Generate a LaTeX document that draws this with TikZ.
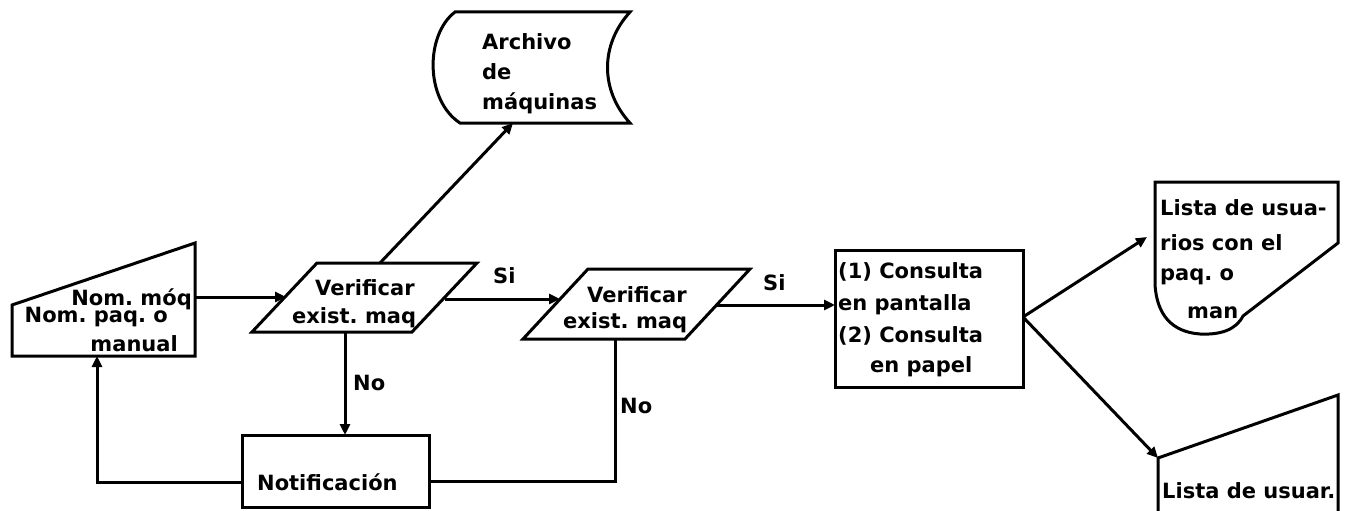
\documentclass[tikz,border=0pt]{standalone}
\usepackage{fontspec}
\setmainfont{DejaVu Sans}
\usetikzlibrary{arrows.meta}
\frenchspacing
\begin{document}
\begin{tikzpicture}[x=1pt,y=-1pt,
  shp/.style={line width=3pt, line join=miter},
  con/.style={line width=3pt},
  arr/.style={con,-{Triangle[length=11pt,width=10pt]}},
  txt/.style={font=\fontsize{21}{21}\selectfont\bfseries, inner sep=0pt, anchor=base west},
  txte/.style={txt, anchor=base east}]
\useasboundingbox (0,0) rectangle (1345,511);

% ---- manual input
\draw[shp] (12,305) -- (195,243) -- (195,356) -- (12,356) -- cycle;
\coordinate (manR) at (195,297);
\coordinate (manB) at (97,356);
\node[txte] (m1) at (192,305) {Nom. móq};
\node[txte] (m2) at (168,322) {Nom. paq. o};
\node[txte] (m3) at (178,351) {manual};

% ---- parallelogram 1
\draw[shp] (317,263) -- (477,263) -- (412,332) -- (252,332) -- cycle;
\coordinate (p1L) at (286,297);
\coordinate (p1R) at (445,299);
\coordinate (p1T) at (380,263);
\coordinate (p1B) at (345,332);
\node[txt] (v1a) at (315,295) {Verificar};
\node[txt] (v1b) at (292,323) {exist. maq};

% ---- parallelogram 2
\draw[shp] (588,269) -- (750,269) -- (685,339) -- (523,339) -- cycle;
\coordinate (p2L) at (560,299);
\coordinate (p2R) at (716,305);
\coordinate (p2B) at (615,339);
\node[txt] (v2a) at (587,302) {Verificar};
\node[txt] (v2b) at (563,328) {exist. maq};

% ---- archivo de maquinas
\draw[shp] (455,12) -- (630,12) .. controls (600,45) and (600,90) .. (630,123)
  -- (460,123) .. controls (425,100) and (425,35) .. (455,12) -- cycle;
\coordinate (arcB) at (513,123);
\node[txt] (a1) at (482,50) {Archivo};
\node[txt] (a2) at (482,80) {de};
\node[txt] (a3) at (482,110) {máquinas};

% ---- consulta box
\draw[shp] (835,250) rectangle (1023,387);
\coordinate (bxL) at (835,305);
\coordinate (bxR) at (1023,317);
\node[txt] (c1) at (838,278) {(1) Consulta};
\node[txt] (c2) at (838,310) {en pantalla};
\node[txt] (c3) at (838,342) {(2) Consulta};
\node[txt] (c4) at (870,372) {en papel};

% ---- notificacion box
\draw[shp] (242,435) rectangle (429,507);
\coordinate (nT) at (345,435);
\coordinate (nL) at (242,482);
\coordinate (nR) at (429,481);
\node[txt] (n1) at (257,490) {Notificación};

% ---- document 1
\draw[shp] (1155,182) -- (1338,182) -- (1338,243) -- (1243,316)
  .. controls (1236,330) and (1220,335) .. (1200,334)
  .. controls (1172,332) and (1157,315) .. (1155,285) -- cycle;
\coordinate (d1L) at (1147,237);
\node[txt] (l1) at (1160,215) {Lista de usua-};
\node[txt] (l2) at (1160,250) {rios con el};
\node[txt] (l3) at (1160,280) {paq. o};
\node[txt] (l4) at (1187,318) {man};

% ---- document 2 (cut off at bottom)
\draw[shp] (1158,520) -- (1158,458) -- (1338,395) -- (1338,520);
\coordinate (d2T) at (1158,458);
\node[txt] (k1) at (1162,498) {Lista de usuar.};

% ---- connectors
\draw[arr] (manR) -- (p1L);
\draw[arr] (p1R) -- (p2L);
\draw[arr] (p1T) -- (arcB);
\draw[arr] (p2R) -- (bxL);
\draw[arr] (p1B) -- (nT);
\draw[arr] (nL) -| (manB);
\draw[con] (nR) -| (p2B);
\draw[arr] (bxR) -- (d1L);
\draw[arr] (bxR) -- (d2T);

% ---- labels
\node[txt] (si1) at (493,283) {Si};
\node[txt] (si2) at (763,290) {Si};
\node[txt] (no1) at (353,390) {No};
\node[txt] (no2) at (620,413) {No};
\end{tikzpicture}
\end{document}
